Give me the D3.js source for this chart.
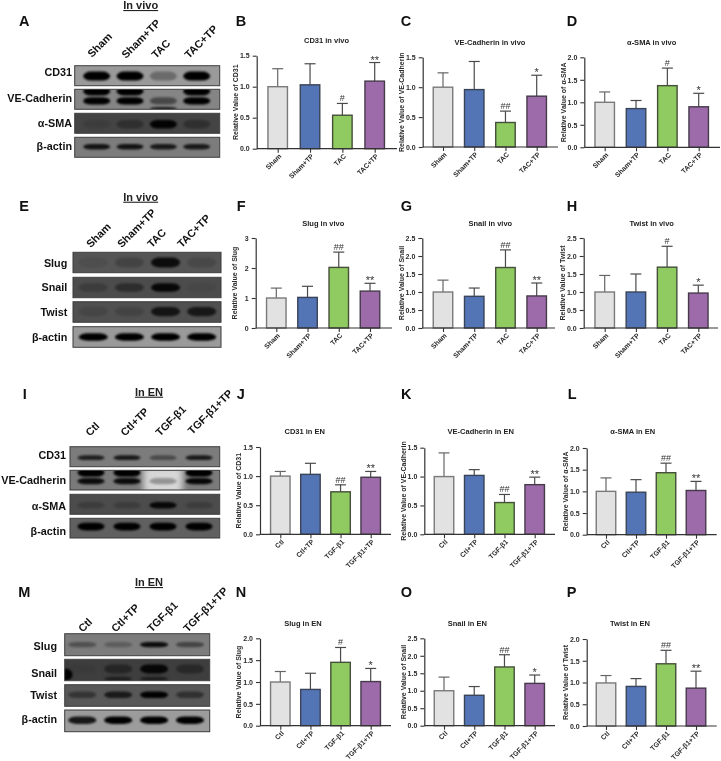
<!DOCTYPE html>
<html><head><meta charset="utf-8">
<script src="https://cdn.jsdelivr.net/npm/d3@7/dist/d3.min.js"></script>
<style>
html,body{margin:0;padding:0;background:#fff}
svg{display:block;font-family:"Liberation Sans",Arial,sans-serif;filter:blur(0.3px)}
</style></head><body><div id="chart"></div>
<script>
// ---------- groups ----------
const vivoGroups = ["Sham","Sham+TP","TAC","TAC+TP"];
const enGroups = ["Ctl","Ctl+TP","TGF-β1","TGF-β1+TP"];

// ---------- bar chart values (mean, upper error end, significance) ----------
const cd31VivoMean = [1.00,1.03,0.54,1.09];
const cd31VivoTop  = [1.29,1.37,0.73,1.39];
const cd31VivoSig  = ["","","#","**"];
const veVivoMean = [1.00,0.96,0.41,0.85];
const veVivoTop  = [1.24,1.43,0.60,1.20];
const veVivoSig  = ["","","##","*"];
const smaVivoMean = [1.00,0.86,1.37,0.90];
const smaVivoTop  = [1.23,1.04,1.76,1.20];
const smaVivoSig  = ["","","#","*"];
const slugVivoMean = [1.00,1.02,2.02,1.23];
const slugVivoTop  = [1.33,1.39,2.53,1.49];
const slugVivoSig  = ["","","##","**"];
const snailVivoMean = [1.00,0.88,1.68,0.89];
const snailVivoTop  = [1.33,1.11,2.17,1.25];
const snailVivoSig  = ["","","##","**"];
const twistVivoMean = [1.00,1.00,1.69,0.97];
const twistVivoTop  = [1.46,1.50,2.27,1.19];
const twistVivoSig  = ["","","#","*"];
const cd31EnMean = [1.00,1.03,0.73,0.98];
const cd31EnTop  = [1.08,1.22,0.85,1.08];
const cd31EnSig  = ["","","##","**"];
const veEnMean = [1.00,1.02,0.55,0.86];
const veEnTop  = [1.41,1.12,0.69,0.99];
const veEnSig  = ["","","##","**"];
const smaEnMean = [1.00,0.98,1.43,1.02];
const smaEnTop  = [1.31,1.27,1.65,1.23];
const smaEnSig  = ["","","##","**"];
const slugEnMean = [1.00,0.83,1.45,1.01];
const slugEnTop  = [1.24,1.20,1.79,1.31];
const slugEnSig  = ["","","#","*"];
const snailEnMean = [1.00,0.87,1.68,1.21];
const snailEnTop  = [1.39,1.12,2.03,1.45];
const snailEnSig  = ["","","##","*"];
const twistEnMean = [0.99,0.91,1.43,0.87];
const twistEnTop  = [1.16,1.09,1.74,1.26];
const twistEnSig  = ["","","##","**"];

const ticks15 = [0,0.5,1,1.5];
const ticks20 = [0,0.5,1,1.5,2];
const ticks25 = [0,0.5,1,1.5,2,2.5];
const ticks3  = [0,1,2,3];

// ---------- blot band strengths per lane (0..1 darkness) ----------
const cd31A = [1,1,0.3,1];
const veA1 = [1,1,0,1], veA2 = [1,1,0.45,1], veA3 = [0,0,0.8,0];
const smaA = [0.1,0.3,0.95,0.3];
const actinA = [0.85,0.85,0.8,0.8];
const slugE = [0.08,0.2,0.85,0.15];
const snailE = [0.2,0.4,0.9,0.06];
const twistE = [0.12,0.15,0.75,0.7];
const actinE = [1,1,1,1];
const cd31I = [0.75,0.8,0.4,0.8];
const veI1 = [1,1,0,1], veI2 = [0.9,0.9,0.3,0.95];
const smaI = [0.2,0.2,0.9,0.2];
const actinI = [1,1,1,1];
const slugM = [0.35,0.25,0.9,0.45];
const snailM1 = [0.05,0.4,0.9,0.35], snailM2 = [0,0.5,0.5,0];
const twistM = [0.4,0.7,1,0.45];
const actinM = [0.85,1,1,1];

// ---------- layout ----------
const fillColors = ["#E2E2E2","#5374B5","#8FCB60","#9D6BAA"];
const edgeColors = ["#7a7a7a","#3a4458","#454f3a","#463a4a"];

const charts = [
 {t:"CD31 in vivo",y:"CD31",g:vivoGroups,m:cd31VivoMean,e:cd31VivoTop,s:cd31VivoSig,tk:ticks15,ax:256.7,end:397,f:277.7,l:374.7,y0:148.7,yt:55.7,tx:326.5,ty:43.3},
 {t:"VE-Cadherin in vivo",y:"VE-Cadherin",g:vivoGroups,m:veVivoMean,e:veVivoTop,s:veVivoSig,tk:ticks15,ax:422.7,end:558,f:443,l:536.7,y0:147,yt:57.3,tx:490,ty:45.3},
 {t:"α-SMA in vivo",y:"α-SMA",g:vivoGroups,m:smaVivoMean,e:smaVivoTop,s:smaVivoSig,tk:ticks20,ax:584.3,end:720,f:604.7,l:698.7,y0:147.3,yt:57.3,tx:651.7,ty:45.3},
 {t:"Slug in vivo",y:"Slug",g:vivoGroups,m:slugVivoMean,e:slugVivoTop,s:slugVivoSig,tk:ticks3,ax:255.7,end:392,f:276.3,l:370,y0:328,yt:238,tx:323.3,ty:226},
 {t:"Snail in vivo",y:"Snail",g:vivoGroups,m:snailVivoMean,e:snailVivoTop,s:snailVivoSig,tk:ticks25,ax:422.3,end:555,f:443,l:536.7,y0:328,yt:238,tx:490.3,ty:226},
 {t:"Twist in vivo",y:"Twist",g:vivoGroups,m:twistVivoMean,e:twistVivoTop,s:twistVivoSig,tk:ticks25,ax:583.7,end:718,f:604.7,l:698.3,y0:328,yt:238,tx:651.7,ty:226},
 {t:"CD31 in EN",y:"CD31",g:enGroups,m:cd31EnMean,e:cd31EnTop,s:cd31EnSig,tk:ticks15,ax:260,end:391,f:280.3,l:370.7,y0:534.3,yt:447,tx:304.7,ty:434},
 {t:"VE-Cadherin in EN",y:"VE-Cadherin",g:enGroups,m:veEnMean,e:veEnTop,s:veEnSig,tk:ticks15,ax:424.3,end:555,f:444,l:534.7,y0:534.3,yt:447.7,tx:480.7,ty:434},
 {t:"α-SMA in EN",y:"α-SMA",g:enGroups,m:smaEnMean,e:smaEnTop,s:smaEnSig,tk:ticks20,ax:586.7,end:716.7,f:606,l:696,y0:534.7,yt:448,tx:632.7,ty:434},
 {t:"Slug in EN",y:"Slug",g:enGroups,m:slugEnMean,e:slugEnTop,s:slugEnSig,tk:ticks20,ax:260,end:391,f:280.3,l:370.7,y0:725.7,yt:638.3,tx:303,ty:626},
 {t:"Snail in EN",y:"Snail",g:enGroups,m:snailEnMean,e:snailEnTop,s:snailEnSig,tk:ticks25,ax:424.3,end:555,f:444,l:534.7,y0:725.7,yt:638.3,tx:467.3,ty:626},
 {t:"Twist in EN",y:"Twist",g:enGroups,m:twistEnMean,e:twistEnTop,s:twistEnSig,tk:ticks20,ax:586.7,end:716.7,f:606,l:696,y0:726,yt:639,tx:630,ty:626}
];

const blots = [
 {title:"In vivo",tx:140.7,ty:9,x0:74.7,x1:219.7,lanes:[96.7,196.7],lab:72,groups:vivoGroups,bw:27,
  start:[[92,58],[126,59],[156,59],[189,59]],
  rows:[
   {n:"CD31",t:65.7,b:85.7,bl:76.3,bg:"#9a9a9a",bands:[{y:.52,h:.45,v:cd31A}]},
   {n:"VE-Cadherin",t:89.3,b:109.3,bl:102,bg:"#858585",bands:[{y:.1,h:.42,v:veA1},{y:.58,h:.36,v:veA2},{y:.97,h:.16,v:veA3}]},
   {n:"α-SMA",t:113.3,b:133.3,bl:127,bg:"#444444",bands:[{y:.55,h:.42,v:smaA}]},
   {n:"β-actin",t:137.3,b:157.3,bl:150,bg:"#7c7c7c",bands:[{y:.47,h:.28,v:actinA}]}
  ]},
 {title:"In vivo",tx:140.7,ty:200.7,x0:73,x1:221,lanes:[93.3,201.7],lab:67.3,groups:vivoGroups,bw:29,
  start:[[90.7,248.3],[121.7,248.3],[151.7,248.3],[181.7,248.3]],
  rows:[
   {n:"Slug",t:252.3,b:272.7,bl:267.3,bg:"#555555",bands:[{y:.5,h:.48,v:slugE}]},
   {n:"Snail",t:277.3,b:297.7,bl:291,bg:"#4c4c4c",bands:[{y:.5,h:.42,v:snailE}]},
   {n:"Twist",t:301.7,b:322.3,bl:316,bg:"#505050",bands:[{y:.48,h:.45,v:twistE}]},
   {n:"β-actin",t:326.7,b:347.3,bl:341,bg:"#9a9a9a",bands:[{y:.5,h:.36,v:actinE}]}
  ]},
 {title:"In EN",tx:149,ty:395.7,x0:70,x1:219.7,lanes:[91,199],lab:66,groups:enGroups,bw:27,
  start:[[90,436.7],[125,436.7],[160,436.7],[192.3,435]],
  rows:[
   {n:"CD31",t:446.7,b:466.7,bl:459.3,bg:"#7c7c7c",bands:[{y:.55,h:.24,v:cd31I}]},
   {n:"VE-Cadherin",t:470.3,b:490,bl:484.3,bg:"#7a7a7a",glow:[0,0,.7,0],bands:[{y:.12,h:.42,v:veI1},{y:.55,h:.32,v:veI2}]},
   {n:"α-SMA",t:494.3,b:514.3,bl:510,bg:"#4c4c4c",bands:[{y:.55,h:.32,v:smaI}]},
   {n:"β-actin",t:518.3,b:538,bl:535,bg:"#606060",bands:[{y:.42,h:.4,v:actinI}]}
  ]},
 {title:"In EN",tx:149,ty:586,x0:64.7,x1:209.7,lanes:[82.3,190],lab:57,groups:enGroups,bw:28,
  start:[[82.7,632.7],[115.7,632.7],[151.7,632.7],[187.7,632.7]],
  rows:[
   {n:"Slug",t:633.7,b:655.7,bl:650,bg:"#7c7c7c",bands:[{y:.5,h:.24,v:slugM}]},
   {n:"Snail",t:659.3,b:680.7,bl:677.3,bg:"#3e3e3e",spot:{x:66,y:.72,w:13,h:.55},bands:[{y:.45,h:.42,v:snailM1},{y:.92,h:.2,v:snailM2}]},
   {n:"Twist",t:684.7,b:706.3,bl:699.3,bg:"#585858",bands:[{y:.47,h:.3,v:twistM}]},
   {n:"β-actin",t:710,b:731.7,bl:723.3,bg:"#9c9c9c",bands:[{y:.47,h:.34,v:actinM}]}
  ]}
];

const panelLetters = [
 ["A",19,26],["B",235.7,25.5],["C",400.7,25.5],["D",566.7,25.5],
 ["E",19.3,211],["F",236.7,210.7],["G",400.7,210.7],["H",566.7,210.7],
 ["I",22.7,399],["J",236.7,399],["K",401,399],["L",567.7,399],
 ["M",18.3,597.3],["N",235.7,597.3],["O",400.7,597.3],["P",566.7,597.3]
];

const svg = d3.select("#chart").append("svg").attr("width",721).attr("height",761);
const defs = svg.append("defs");
const blurF = defs.append("filter").attr("id","bandBlur").attr("x","-30%").attr("y","-80%").attr("width","160%").attr("height","260%");
blurF.append("feGaussianBlur").attr("stdDeviation","1.0");
const glowF = defs.append("filter").attr("id","glowBlur").attr("x","-50%").attr("y","-50%").attr("width","200%").attr("height","200%");
glowF.append("feGaussianBlur").attr("stdDeviation","3");

// panel letters
svg.append("g").selectAll("text").data(panelLetters).join("text")
  .attr("x",d=>d[1]).attr("y",d=>d[2]).attr("font-size",14.5).attr("font-weight","bold").attr("fill","#111").text(d=>d[0]);

// western blots
blots.forEach((bl,bi)=>{
  const g = svg.append("g");
  const lane = d3.scalePoint().domain(bl.groups).range(bl.lanes);
  g.append("text").attr("x",bl.tx).attr("y",bl.ty).attr("text-anchor","middle")
    .attr("font-size",11).attr("font-weight","bold").attr("text-decoration","underline").attr("fill","#222").text(bl.title);
  g.selectAll(".lane").data(bl.groups).join("text")
    .attr("font-size",10.8).attr("font-weight","bold").attr("fill","#111")
    .attr("transform",(d,i)=>`translate(${bl.start[i][0]},${bl.start[i][1]}) rotate(-45)`).text(d=>d);
  bl.rows.forEach((r,ri)=>{
    const id=`clip${bi}_${ri}`;
    defs.append("clipPath").attr("id",id).append("rect").attr("x",bl.x0).attr("y",r.t).attr("width",bl.x1-bl.x0).attr("height",r.b-r.t);
    const h=r.b-r.t;
    g.append("text").attr("x",bl.lab).attr("y",r.bl).attr("text-anchor","end")
      .attr("font-size",10.8).attr("font-weight","bold").attr("fill","#111").text(r.n);
    const pg=g.append("g").attr("clip-path",`url(#${id})`);
    pg.append("rect").attr("x",bl.x0).attr("y",r.t).attr("width",bl.x1-bl.x0).attr("height",h).attr("fill",r.bg);
    if(r.glow){
      pg.selectAll(".glow").data(r.glow).join("rect")
        .attr("x",(d,i)=>lane(bl.groups[i])-bl.bw/2-6).attr("y",r.t-4).attr("width",bl.bw+12).attr("height",h+8)
        .attr("fill","#fff").attr("opacity",d=>d).attr("filter","url(#glowBlur)");
    }
    if(r.spot){
      pg.append("ellipse").attr("cx",r.spot.x).attr("cy",r.t+h*r.spot.y).attr("rx",r.spot.w/2).attr("ry",h*r.spot.h/2)
        .attr("fill","#000").attr("filter","url(#bandBlur)");
    }
    r.bands.forEach(b=>{
      pg.selectAll(null).data(b.v).join("rect")
        .attr("x",(d,i)=>lane(bl.groups[i])-bl.bw/2).attr("width",bl.bw)
        .attr("y",r.t+h*b.y-h*b.h/2).attr("height",h*b.h)
        .attr("rx",bl.bw*0.3).attr("ry",h*b.h/2)
        .attr("fill","#000").attr("opacity",d=>d).attr("filter","url(#bandBlur)");
    });
    g.append("rect").attr("x",bl.x0).attr("y",r.t).attr("width",bl.x1-bl.x0).attr("height",h)
      .attr("fill","none").attr("stroke","#3a3a3a").attr("stroke-width",1);
  });
});

// bar charts
const fmt1 = d3.format(".1f");
charts.forEach(c=>{
  const g = svg.append("g");
  const x = d3.scalePoint().domain(c.g).range([c.f,c.l]);
  const y = d3.scaleLinear().domain([0,c.tk[c.tk.length-1]]).range([c.y0,c.yt]);
  const bw = 19.5;
  // error bars
  g.selectAll(".err").data(c.g).join("line")
    .attr("x1",d=>x(d)).attr("x2",d=>x(d))
    .attr("y1",(d,i)=>y(c.m[i])).attr("y2",(d,i)=>y(c.e[i]))
    .attr("stroke",(d,i)=>i===0?"#666":"#4a4a4a").attr("stroke-width",1.2);
  g.selectAll(".cap").data(c.g).join("line")
    .attr("x1",d=>x(d)-5.5).attr("x2",d=>x(d)+5.5)
    .attr("y1",(d,i)=>y(c.e[i])).attr("y2",(d,i)=>y(c.e[i]))
    .attr("stroke",(d,i)=>i===0?"#666":"#4a4a4a").attr("stroke-width",1.2);
  // bars
  g.selectAll(".bar").data(c.g).join("rect")
    .attr("x",d=>x(d)-bw/2).attr("width",bw)
    .attr("y",(d,i)=>y(c.m[i])).attr("height",(d,i)=>c.y0-y(c.m[i]))
    .attr("fill",(d,i)=>fillColors[i]).attr("stroke",(d,i)=>edgeColors[i]).attr("stroke-width",1.4);
  // axes
  const ay = g.append("g").attr("transform",`translate(${c.ax},0)`)
    .call(d3.axisLeft(y).tickValues(c.tk).tickSize(4).tickSizeOuter(0).tickFormat(c.tk===ticks3?d3.format("d"):fmt1));
  const ax = g.append("g").attr("transform",`translate(0,${c.y0})`)
    .call(d3.axisBottom(x).tickSize(4).tickSizeOuter(0));
  ax.select(".domain").remove();
  ax.append("line").attr("x1",c.ax).attr("x2",c.end).attr("stroke","#333").attr("stroke-width",1.2);
  [ax,ay].forEach(a=>{
    a.selectAll("path.domain").attr("stroke","#333").attr("stroke-width",1.2);
    a.selectAll(".tick line").attr("stroke","#333").attr("stroke-width",1.1);
    a.selectAll("text").attr("font-family","Liberation Sans").attr("font-weight","bold").attr("fill","#2a2a2a");
  });
  ay.selectAll("text").attr("font-size",7);
  ax.selectAll("text").attr("font-size",6.9).attr("text-anchor","end")
    .attr("x",0).attr("y",0).attr("dy","0.32em")
    .attr("transform","translate(2,6.5) rotate(-45)");
  // y title
  g.append("text").attr("transform",`translate(${c.ax-21},${(c.y0+c.yt)/2}) rotate(-90)`)
    .attr("text-anchor","middle").attr("dy","0.35em").attr("font-size",7).attr("font-weight","bold").attr("fill","#2a2a2a")
    .text("Relative Value of "+c.y);
  // title
  g.append("text").attr("x",c.tx).attr("y",c.ty).attr("text-anchor","middle")
    .attr("font-size",7.5).attr("font-weight","bold").attr("fill","#222").text(c.t);
  // significance
  g.selectAll(".sig").data(c.s).join("text")
    .attr("x",(d,i)=>x(c.g[i]))
    .attr("y",(d,i)=>y(c.e[i])+(d[0]==="*"?1:-2))
    .attr("text-anchor","middle").attr("font-size",d=>d[0]==="*"?11:9).attr("fill","#333").text(d=>d);
});
</script></body></html>
